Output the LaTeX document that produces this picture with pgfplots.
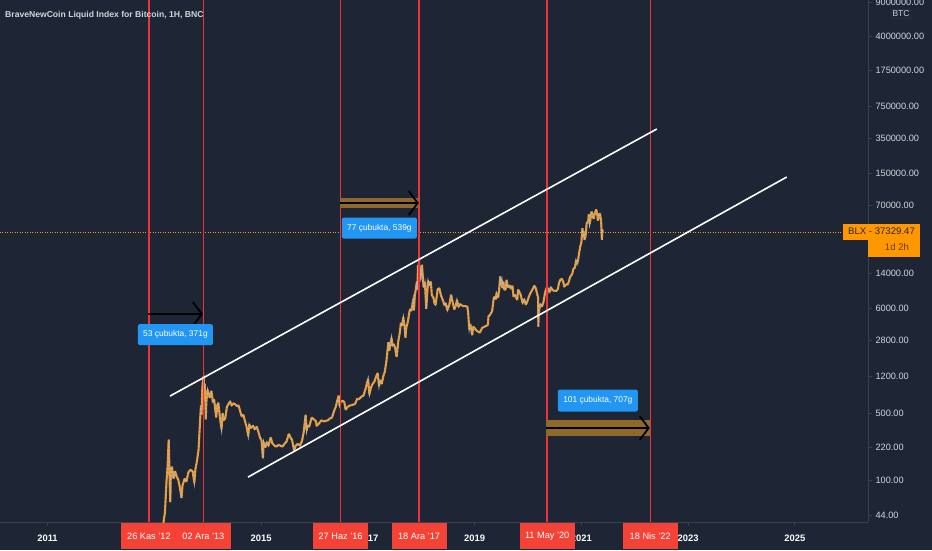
\documentclass[border=0pt]{standalone}
\usepackage{pgfplots}
\pgfplotsset{compat=1.18}
\usepackage{pgfplotstable}
\usepackage{fontspec}
\setmainfont{Liberation Sans}
\usetikzlibrary{arrows.meta}

\definecolor{bg}{HTML}{1E2635}
\definecolor{axisgray}{HTML}{3A4252}
\definecolor{txt}{HTML}{D1D4DC}
\definecolor{vred}{RGB}{240,50,60}
\definecolor{boxred}{HTML}{F44336}
\definecolor{up}{HTML}{F0961E}
\definecolor{dn}{HTML}{B2B5BE}
\definecolor{lblblue}{HTML}{2196F3}
\definecolor{gold}{HTML}{8D6A2C}
\definecolor{lastorange}{HTML}{FF9800}

% BTC price, decimal year vs USD
\pgfplotstableread{
x y
2013.00 13.5
2013.08 20
2013.16 33
2013.20 47
2013.23 100
2013.25 140
2013.265 230
2013.27 266
2013.28 160
2013.29 90
2013.30 60
2013.31 120
2013.33 140
2013.36 105
2013.39 125
2013.42 110
2013.45 102
2013.48 85
2013.51 66
2013.53 90
2013.57 105
2013.60 97
2013.64 122
2013.68 130
2013.72 124
2013.75 95
2013.77 130
2013.80 160
2013.83 210
2013.855 390
2013.875 600
2013.885 480
2013.90 900
2013.915 1150
2013.925 1200
2013.935 900
2013.945 1000
2013.955 700
2013.965 430
2013.975 650
2013.99 800
2014.00 870
2014.02 780
2014.04 720
2014.07 850
2014.10 640
2014.12 700
2014.14 560
2014.16 450
2014.18 600
2014.20 640
2014.23 450
2014.26 340
2014.28 500
2014.30 420
2014.33 440
2014.36 580
2014.39 620
2014.42 660
2014.45 600
2014.48 630
2014.51 620
2014.55 590
2014.58 600
2014.61 520
2014.64 460
2014.67 480
2014.70 410
2014.73 360
2014.76 290
2014.78 380
2014.81 350
2014.85 370
2014.88 340
2014.92 360
2014.95 320
2014.98 280
2015.01 260
2015.035 170
2015.05 250
2015.08 220
2015.11 250
2015.14 230
2015.18 280
2015.21 245
2015.25 230
2015.29 225
2015.33 235
2015.36 230
2015.40 225
2015.44 240
2015.48 255
2015.52 305
2015.55 280
2015.58 265
2015.62 205
2015.65 230
2015.69 240
2015.73 230
2015.77 260
2015.80 320
2015.835 480
2015.855 330
2015.87 370
2015.90 360
2015.95 450
2015.99 430
2016.03 410
2016.04 370
2016.07 380
2016.10 400
2016.13 420
2016.17 410
2016.21 415
2016.25 420
2016.29 440
2016.33 450
2016.37 530
2016.40 580
2016.43 680
2016.455 760
2016.47 600
2016.49 650
2016.53 670
2016.56 650
2016.585 540
2016.62 580
2016.67 600
2016.72 610
2016.76 620
2016.80 700
2016.84 700
2016.88 740
2016.92 760
2016.96 900
2017.005 1130
2017.03 780
2017.06 920
2017.09 1000
2017.12 1050
2017.155 1190
2017.185 1300
2017.21 950
2017.23 1100
2017.26 1000
2017.29 1200
2017.32 1350
2017.35 1750
2017.385 2700
2017.40 2200
2017.42 2500
2017.445 3000
2017.46 2500
2017.48 2600
2017.51 2400
2017.54 1900
2017.57 2750
2017.60 3400
2017.62 4300
2017.64 4000
2017.665 4900
2017.69 3900
2017.705 3000
2017.72 3800
2017.75 4400
2017.78 5600
2017.80 6000
2017.82 5800
2017.85 7500
2017.865 5800
2017.88 8200
2017.905 10000
2017.92 11500
2017.93 9500
2017.94 17000
2017.95 15000
2017.96 19500
2017.97 11500
2017.985 15500
2018.00 13500
2018.015 17200
2018.03 13000
2018.045 10000
2018.07 11200
2018.095 6000
2018.11 8300
2018.13 11700
2018.16 10400
2018.18 11500
2018.20 8300
2018.23 7800
2018.25 6800
2018.27 6600
2018.29 8000
2018.31 9600
2018.34 9800
2018.37 8300
2018.40 7500
2018.44 6500
2018.46 6800
2018.49 5800
2018.53 6700
2018.56 8400
2018.59 7000
2018.62 5900
2018.65 6500
2018.67 7400
2018.70 6300
2018.73 6700
2018.76 6500
2018.79 6400
2018.83 6400
2018.865 6300
2018.88 5500
2018.90 3700
2018.92 4200
2018.955 3200
2018.975 3900
2019.00 3800
2019.03 3600
2019.06 3500
2019.10 3400
2019.14 3800
2019.18 3900
2019.22 4000
2019.25 4100
2019.26 5000
2019.29 5200
2019.33 5700
2019.36 7800
2019.38 8000
2019.40 7500
2019.41 8700
2019.44 7800
2019.46 9300
2019.48 13000
2019.49 11000
2019.51 12000
2019.52 9800
2019.54 11500
2019.555 9500
2019.58 9500
2019.60 12000
2019.62 10000
2019.66 10500
2019.68 9600
2019.71 10400
2019.73 8000
2019.76 8300
2019.80 7400
2019.815 9500
2019.83 9200
2019.86 8500
2019.90 6900
2019.93 7500
2019.96 6600
2019.99 7200
2020.02 8100
2020.05 8800
2020.08 9400
2020.12 10400
2020.15 9700
2020.17 8600
2020.19 7900
2020.195 3900
2020.20 5400
2020.23 6700
2020.26 6300
2020.29 7000
2020.32 8800
2020.35 9900
2020.36 8600
2020.38 9700
2020.41 9000
2020.43 10000
2020.46 9400
2020.49 9200
2020.53 9200
2020.56 9600
2020.58 11000
2020.60 11800
2020.63 12300
2020.66 11500
2020.68 10200
2020.72 10700
2020.75 10800
2020.79 12800
2020.83 13800
2020.85 15500
2020.88 16000
2020.90 19000
2020.92 17500
2020.94 19300
2020.96 23000
2020.98 26500
2021.00 29000
2021.02 41000
2021.04 33000
2021.05 38000
2021.06 31000
2021.08 34000
2021.10 46000
2021.13 49000
2021.14 57000
2021.155 45000
2021.17 50000
2021.19 61000
2021.21 56000
2021.23 51000
2021.25 58000
2021.26 60000
2021.28 64000
2021.30 55000
2021.31 49000
2021.33 57000
2021.35 58000
2021.37 49000
2021.38 37000
2021.385 31000
2021.39 40000
2021.40 37330
}\btc

\begin{document}
\begin{tikzpicture}
\path[use as bounding box, fill=bg] (0,-28pt) rectangle (932pt,522pt);
\begin{axis}[
    at={(0,0)}, anchor=south west,
    scale only axis,
    width=868pt, height=522pt,
    xmin=2010.11, xmax=2026.37,
    ymode=log, ymin=37.3, ymax=9.42e6,
    axis x line*=bottom, axis y line*=right,
    axis line style={draw=axisgray, line width=0.8pt},
    tick align=outside,
    major tick length=4pt,
    tick style={draw=axisgray, line width=0.8pt},
    xtick={2011,2013,...,2025},
    xticklabels={2011,2013,2015,2017,2019,2021,2023,2025},
    xticklabel style={font=\bfseries\fontsize{9.4}{10}\selectfont, text=white!92!txt, yshift=-5pt},
    ytick={44,100,220,500,1200,2800,6000,14000,70000,150000,350000,750000,1750000,4000000,9000000},
    yticklabels={44.00,100.00,220.00,500.00,1200.00,2800.00,6000.00,14000.00,70000.00,150000.00,350000.00,750000.00,1750000.00,4000000.00,9000000.00},
    yticklabel style={font=\fontsize{9.2}{10}\selectfont, text=txt, anchor=west, xshift=0pt},
    clip mode=individual,
]
% last price line
\draw[lastorange, line width=0.6pt, dash pattern=on 1pt off 1.5pt]
    (axis cs:2010.11,37329.47) -- (axis cs:2026.37,37329.47);

\addplot[up, line width=2.1pt, line join=bevel] table[x=x, y=y] {\btc};
\addplot[dn, line width=1.3pt, dash pattern=on 1.5pt off 2.2pt] table[x=x, y=y] {\btc};

\coordinate (b1) at (axis cs:2012.90,37.3);
\coordinate (b2) at (axis cs:2013.92,37.3);
\coordinate (b3) at (axis cs:2016.49,37.3);
\coordinate (b4) at (axis cs:2017.96,37.3);
\coordinate (b5) at (axis cs:2020.36,37.3);
\coordinate (b6) at (axis cs:2022.29,37.3);
\coordinate (lp) at (axis cs:2026.37,37329.47);
\end{axis}

% vertical date lines, full height of the plot area
\foreach \c in {b1,b2,b3,b4,b5,b6}{
  \draw[vred, line width=1.4pt] (\c) -- ++(0,522pt);
}

\begin{axis}[
    at={(0,0)}, anchor=south west,
    scale only axis,
    width=868pt, height=522pt,
    xmin=2010.11, xmax=2026.37,
    ymode=log, ymin=37.3, ymax=9.42e6,
    hide axis,
    clip mode=individual,
]
% channel
\draw[white, line width=1.6pt] (axis cs:2013.294,750) -- (axis cs:2022.414,435500);
\draw[white, line width=1.6pt] (axis cs:2014.755,108.7) -- (axis cs:2024.848,138700);

% ranges
\draw[black, line width=1.8pt, -{Straight Barb[length=9pt, width=24pt, line width=1.8pt]}]
    (axis cs:2012.884,5300) -- (axis cs:2013.912,5300);

\fill[gold] (axis cs:2016.477,66000) rectangle (axis cs:2017.957,84000);
\draw[black, line width=1.8pt, -{Straight Barb[length=9pt, width=24pt, line width=1.8pt]}]
    (axis cs:2016.477,74600) -- (axis cs:2017.957,74600);

\fill[gold] (axis cs:2020.335,289) rectangle (axis cs:2022.283,423);
\draw[black, line width=1.8pt, -{Straight Barb[length=9pt, width=24pt, line width=1.8pt]}]
    (axis cs:2020.335,350) -- (axis cs:2022.283,350);

\node[fill=lblblue, text=white, rounded corners=2pt, minimum width=75pt, minimum height=21pt,
      inner sep=2pt, font=\fontsize{8.4}{9}\selectfont]
    at (axis cs:2013.397,3240) {53 çubukta, 371g};
\node[fill=lblblue, text=white, rounded corners=2pt, minimum width=75pt, minimum height=21pt,
      inner sep=2pt, font=\fontsize{8.4}{9}\selectfont]
    at (axis cs:2017.217,41100) {77 çubukta, 539g};
\node[fill=lblblue, text=white, rounded corners=2pt, minimum width=80pt, minimum height=22pt,
      inner sep=2pt, font=\fontsize{8.4}{9}\selectfont]
    at (axis cs:2021.309,673) {101 çubukta, 707g};
\end{axis}

% date boxes on the time scale
\foreach \c/\t in {b1/{26 Kas '12}, b2/{02 Ara '13}, b3/{27 Haz '16}, b4/{18 Ara '17}, b5/{11 May '20}, b6/{18 Nis '22}}{
  \node[fill=boxred, text=white, minimum width=55pt, minimum height=26pt, inner sep=1pt,
        anchor=north, font=\fontsize{9.2}{10}\selectfont] at ([yshift=-1pt]\c) {\t};
}

% last price label
\fill[lastorange] ([xshift=-25pt,yshift=8.5pt]lp) rectangle ([xshift=52pt,yshift=-8pt]lp);
\fill[lastorange] ([xshift=0pt,yshift=-8pt]lp) rectangle ([xshift=52pt,yshift=-24.5pt]lp);
\node[text=black!85, font=\fontsize{9.6}{10}\selectfont] at ([xshift=13.5pt,yshift=1pt]lp) {BLX - 37329.47};
\node[text=black!60!lastorange, font=\fontsize{9.6}{10}\selectfont] at ([xshift=29pt,yshift=-15pt]lp) {1d 2h};

% currency tag and title
\node[draw=axisgray, fill=bg, rounded corners=1.5pt, text=txt, inner sep=1.5pt,
      font=\fontsize{8.5}{9}\selectfont] at (901pt,508pt) {BTC};
\node[anchor=west, text=txt, font=\bfseries\fontsize{8.6}{9}\selectfont, inner sep=0pt]
    at (5pt,507pt) {BraveNewCoin Liquid Index for Bitcoin, 1H, BNC};
\end{tikzpicture}
\end{document}
